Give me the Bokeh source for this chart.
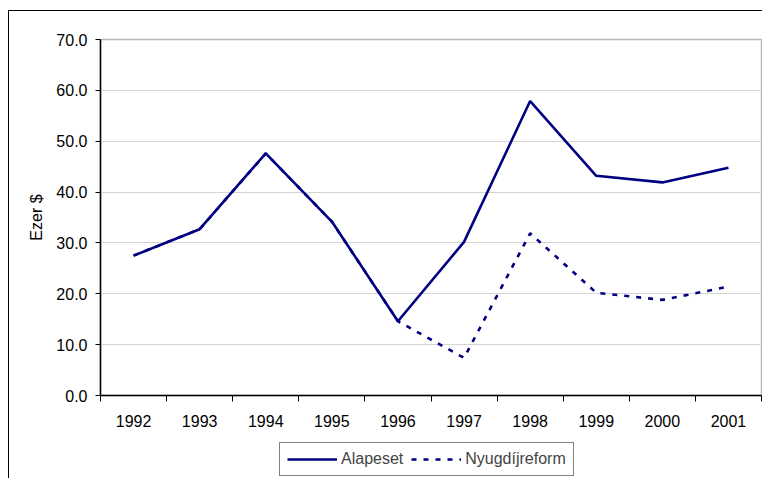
from bokeh.plotting import figure
from bokeh.layouts import column
from bokeh.models import FixedTicker, Legend, LegendItem, PrintfTickFormatter, Range1d
from bokeh.embed import file_html
from bokeh.resources import INLINE

years = [1992, 1993, 1994, 1995, 1996, 1997, 1998, 1999, 2000, 2001]
alapeset = [27.5, 32.7, 47.6, 34.2, 14.6, 30.2, 57.9, 43.2, 41.9, 44.8]
nyugdijreform = [27.5, 32.7, 47.6, 34.2, 14.6, 7.4, 31.9, 20.2, 18.8, 21.4]
y_ticks = [0, 10, 20, 30, 40, 50, 60, 70]
series_names = ["Alapeset", "Nyugdíjreform"]

FONT = "Liberation Sans"
NAVY = "#000080"
DASH = "5 7"

p = figure(width=754, height=425, output_backend="svg", toolbar_location=None,
           x_range=Range1d(years[0] - 0.5, years[-1] + 0.5), y_range=Range1d(0, 70),
           min_border_left=91, min_border_right=2, min_border_top=28, min_border_bottom=41)
p.styles = {"border-left": "1px solid black", "border-top": "1px solid black"}
p.background_fill_color = "white"
p.border_fill_color = "white"
p.outline_line_color = "#b8b8b8"
p.outline_line_width = 1.5

p.line(years, alapeset, line_color=NAVY, line_width=2.6)
p.line(years, nyugdijreform, line_color=NAVY, line_width=2.6, line_dash=DASH)

p.xgrid.visible = False
p.ygrid.grid_line_color = "#d4d4d4"
p.ygrid.grid_line_width = 1

xa = p.xaxis[0]
xa.ticker = FixedTicker(ticks=years, minor_ticks=[y - 0.5 for y in years] + [years[-1] + 0.5])
xa.major_tick_out = 0
xa.major_tick_in = 0
xa.minor_tick_out = 6
xa.minor_tick_in = 0
xa.minor_tick_line_color = "black"
xa.axis_line_color = "black"
xa.axis_line_width = 1.5
xa.major_label_text_font = FONT
xa.major_label_text_font_size = "16px"
xa.major_label_text_color = "black"
xa.major_label_standoff = 13

ya = p.yaxis[0]
ya.ticker = FixedTicker(ticks=y_ticks)
ya.formatter = PrintfTickFormatter(format="%.1f")
ya.major_tick_out = 5
ya.major_tick_in = 0
ya.minor_tick_out = 0
ya.minor_tick_in = 0
ya.axis_line_color = "black"
ya.axis_line_width = 1.5
ya.major_label_text_font = FONT
ya.major_label_text_font_size = "16px"
ya.major_label_text_color = "black"
ya.major_label_standoff = 8
ya.axis_label = "Ezer $"
ya.axis_label_text_font = FONT
ya.axis_label_text_font_size = "16px"
ya.axis_label_text_font_style = "normal"
ya.axis_label_text_color = "black"
ya.axis_label_standoff = 8

# legend strip below the chart (its lines fall outside its own ranges, only the legend shows)
q = figure(width=754, height=43, output_backend="svg", toolbar_location=None,
           x_range=Range1d(0, 1), y_range=Range1d(0, 1),
           min_border_left=0, min_border_right=0, min_border_top=0, min_border_bottom=0)
q.styles = {"border-left": "1px solid black"}
q.axis.visible = False
q.grid.visible = False
q.outline_line_color = None
q.background_fill_color = "white"
q.border_fill_color = "white"
l1 = q.line(years, alapeset, line_color=NAVY, line_width=2.6)
l2 = q.line(years, nyugdijreform, line_color=NAVY, line_width=2.6, line_dash=DASH)

legend = Legend(items=[LegendItem(label=series_names[0], renderers=[l1]),
                       LegendItem(label=series_names[1], renderers=[l2])],
                orientation="horizontal", location=(179, 2),
                glyph_width=50, glyph_height=18, label_standoff=4, spacing=8,
                padding=7, margin=0,
                label_text_font=FONT, label_text_font_size="16px",
                border_line_color="black", border_line_width=1,
                background_fill_color="white", background_fill_alpha=1)
q.add_layout(legend, "center")

layout = column(p, q, spacing=0)
layout.styles = {"margin-left": "8px", "margin-top": "10px"}

open("out.html", "w").write(file_html(layout, INLINE))
